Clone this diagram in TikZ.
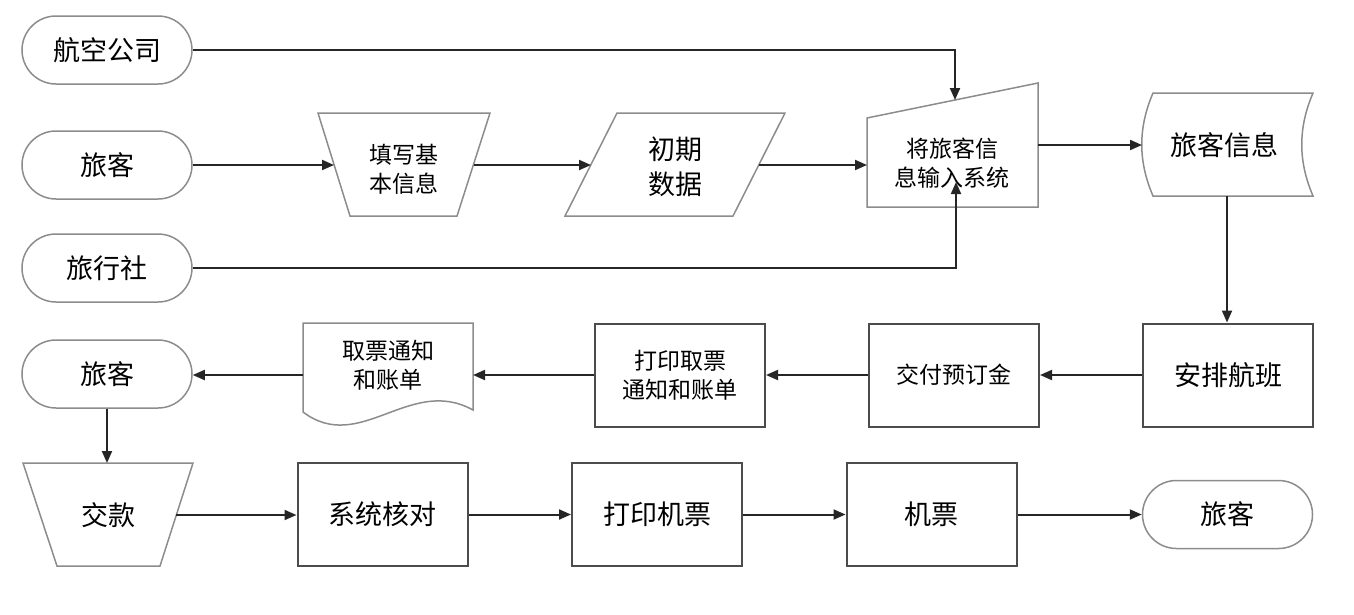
\documentclass[tikz,border=0pt]{standalone}
\usepackage{fontspec}
\newfontfamily\cjk{Noto Sans CJK SC}
\usetikzlibrary{arrows.meta,shapes.misc,calc}
\begin{document}
\begin{tikzpicture}[x=1pt,y=-1pt,
  big/.style={font=\cjk\fontsize{27}{35}\selectfont},
  small/.style={font=\cjk\fontsize{23}{29}\selectfont},
  term/.style={rounded rectangle, draw=black!45, line width=1.5pt, minimum width=170pt, minimum height=68pt, inner sep=0pt},
  proc/.style={rectangle, draw=black!70, line width=2pt, minimum width=170pt, minimum height=103pt, inner sep=0pt, align=center},
  shp/.style={draw=black!45, line width=1.5pt},
  lbl/.style={inner sep=0pt, align=center},
  conn/.style={draw=black!85, line width=2pt, -{Triangle[length=12pt,width=10pt]}}
]
\useasboundingbox (0,0) rectangle (1354,614);

% row 1-2 sources
\node[term,big] (air) at (107,50) {航空公司};
\node[term,big] (p1) at (107,165) {旅客};
\node[term,big] (agency) at (107,268) {旅行社};

% fill in basic info (manual operation)
\draw[shp] (318,113) -- (490,113) -- (457,216) -- (350,216) -- cycle;
\node[lbl,small] (fill) at (404,169) {填写基\\本信息};
\coordinate (fillW) at (334,165);
\coordinate (fillE) at (474,165);

% initial data (parallelogram)
\draw[shp] (617,113) -- (785,113) -- (733,216) -- (565,216) -- cycle;
\node[lbl,big] (init) at (675,167) {初期\\数据};
\coordinate (initW) at (591,165);
\coordinate (initE) at (759,165);

% manual input
\draw[shp] (867,118) -- (1038,83) -- (1038,207) -- (867,207) -- cycle;
\node[lbl,small] (input) at (952,163) {将旅客信\\息输入系统};
\coordinate (inW) at (867,165);
\coordinate (inN) at (955,100);
\coordinate (inS) at (956,182);
\coordinate (inE) at (1038,145);

% stored data
\draw[shp] (1153,93) -- (1313,93) .. controls (1298,128) and (1298,161) .. (1313,196) -- (1153,196) .. controls (1138,161) and (1138,128) .. (1153,93) -- cycle;
\node[lbl,big] (info) at (1224,145) {旅客信息};
\coordinate (infoW) at (1142,145);
\coordinate (infoS) at (1227,196);

% row 3
\node[proc,big] (arrange) at (1228,375) {安排航班};
\node[proc,small] (pay) at (954,375) {交付预订金};
\node[proc,small] (print1) at (680,375) {打印取票\\通知和账单};
\draw[shp] (303,412) -- (303,323) -- (473,323) -- (473,410) .. controls (410,375) and (360,455) .. (303,412);
\node[lbl,small] (doc) at (388,365) {取票通知\\和账单};
\coordinate (docE) at (473,375);
\coordinate (docW) at (303,375);
\node[term,big] (p2) at (107,374) {旅客};

% row 4
\draw[shp] (23,463) -- (193,463) -- (160,566) -- (57,566) -- cycle;
\node[lbl,big] (cash) at (108,515) {交款};
\coordinate (cashN) at (107,463);
\coordinate (cashE) at (176,515);
\node[proc,big] (check) at (382.5,514.5) {系统核对};
\node[proc,big] (print2) at (657,514.5) {打印机票};
\node[proc,big] (ticket) at (931.5,514.5) {机票};
\node[term,big] (p3) at (1227.5,514.5) {旅客};

% connectors
\draw[conn] (air.east) -| (inN);
\draw[conn] (p1.east) -- (fillW);
\draw[conn] (fillE) -- (initW);
\draw[conn] (initE) -- (inW);
\draw[conn] (agency.east) -| (inS);
\draw[conn] (inE) -- (infoW);
\draw[conn] (infoS) -- (infoS |- arrange.north);
\draw[conn] (arrange.west) -- (pay.east);
\draw[conn] (pay.west) -- (print1.east);
\draw[conn] (print1.west) -- (docE);
\draw[conn] (docW) -- (p2.east |- docW);
\draw[conn] (p2.south) -- (cashN);
\draw[conn] (cashE) -- (check.west |- cashE);
\draw[conn] (check.east) -- (print2.west);
\draw[conn] (print2.east) -- (ticket.west);
\draw[conn] (ticket.east) -- (p3.west);
\end{tikzpicture}
\end{document}
